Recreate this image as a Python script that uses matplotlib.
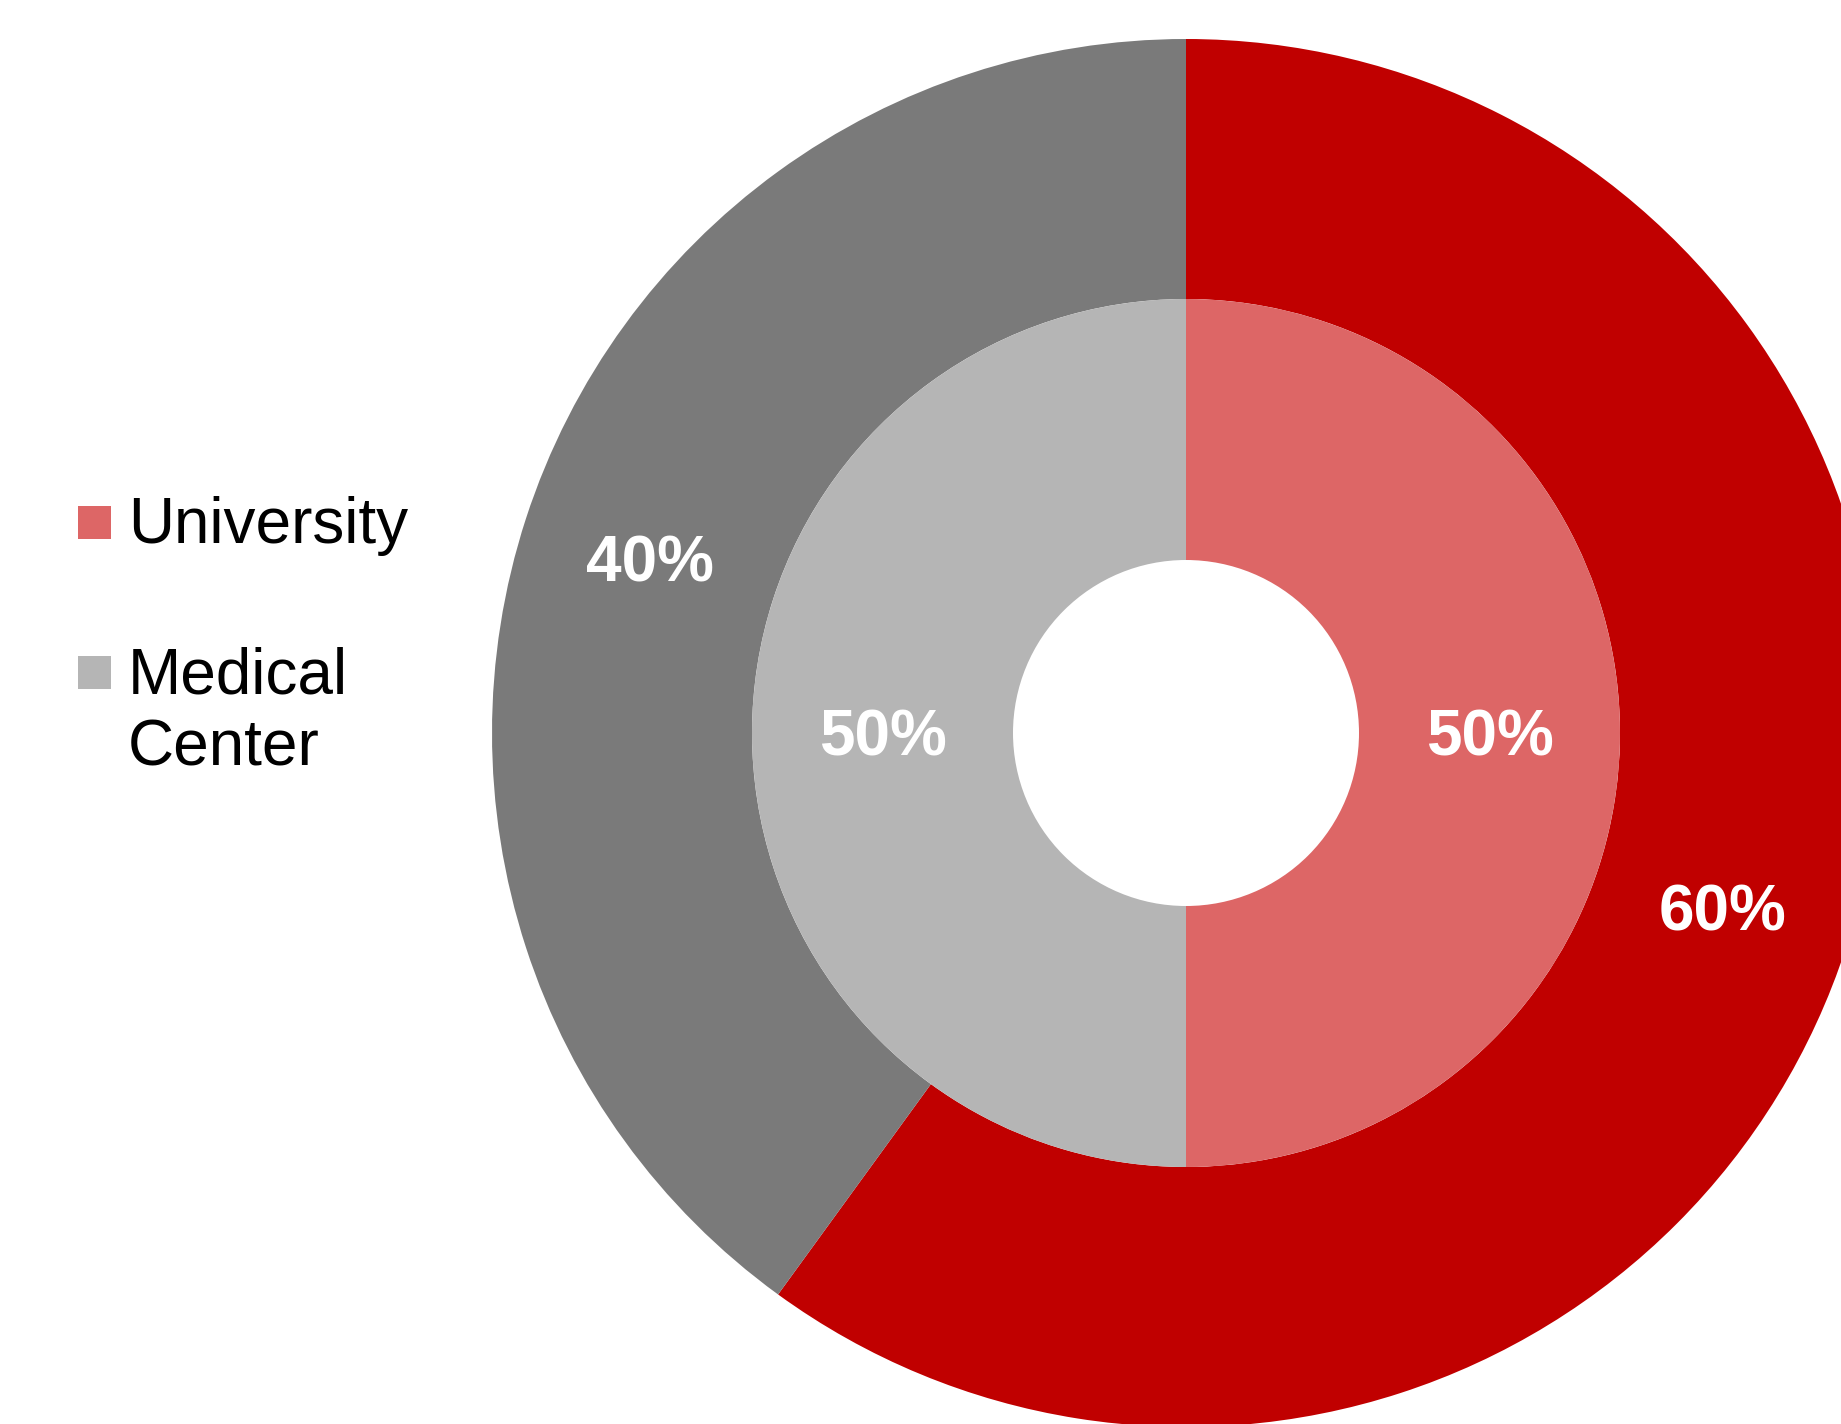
import matplotlib
matplotlib.use("Agg")
import matplotlib.pyplot as plt
from matplotlib.patches import Rectangle

plt.rcParams['font.family'] = ['Liberation Sans', 'DejaVu Sans']

categories = ["University", "Medical Center"]
outer_values = [60, 40]
inner_values = [50, 50]
outer_colors = ["#C00000", "#7A7A7A"]
inner_colors = ["#DD6666", "#B5B5B5"]

W, H = 1841, 1424
fig = plt.figure(figsize=(W / 100, H / 100), dpi=100)
ax = fig.add_axes([0, 0, 1, 1])

cx, cy = 1186, H - 733
r_out, r_mid, r_in = 694, 434, 173
ring_w_out = r_out - r_mid
ring_w_in = r_mid - r_in

fmt = lambda p: f"{p:.0f}%"
label_style = dict(color="white", fontsize=46, fontweight="bold")

_, _, outer_txt = ax.pie(outer_values, colors=outer_colors, startangle=90,
                         counterclock=False, radius=r_out, center=(cx, cy),
                         frame=True,
                         wedgeprops=dict(width=ring_w_out, linewidth=0),
                         autopct=fmt,
                         pctdistance=(r_out - ring_w_out / 2) / r_out,
                         textprops=label_style)
_, _, inner_txt = ax.pie(inner_values, colors=inner_colors, startangle=90,
                         counterclock=False, radius=r_mid, center=(cx, cy),
                         frame=True,
                         wedgeprops=dict(width=ring_w_in, linewidth=0),
                         autopct=fmt,
                         pctdistance=(r_mid - ring_w_in / 2) / r_mid,
                         textprops=label_style)

# centre the digits (not the font's full line box) on the ring
for t in list(outer_txt) + list(inner_txt):
    x, y = t.get_position()
    t.set_position((x, y - 6))

ax.set_xlim(0, W)
ax.set_ylim(0, H)
ax.set_aspect("equal")
ax.axis("off")

# legend: colour swatch + label lines
legend_rows = [
    (inner_colors[0], H - 539, [("University", H - 543)]),
    (inner_colors[1], H - 689, [("Medical", H - 693), ("Center", H - 766)]),
]
for color, sq_bottom, lines in legend_rows:
    ax.add_patch(Rectangle((78, sq_bottom), 33, 33, facecolor=color,
                           edgecolor="none"))
    for txt, base in lines:
        ax.text(128, base, txt, fontsize=46, color="black",
                ha="left", va="baseline")

fig.savefig("out.png", dpi=100, facecolor="white")
